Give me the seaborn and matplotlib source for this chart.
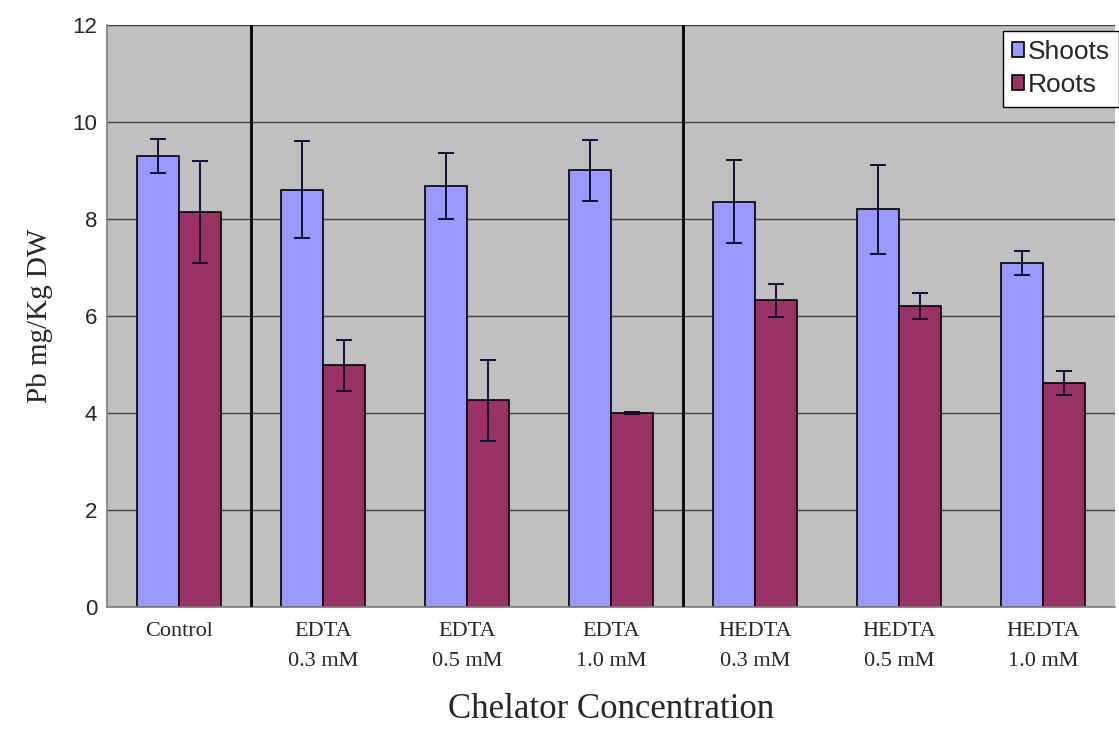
import matplotlib
matplotlib.use("Agg")
import matplotlib.pyplot as plt
import seaborn as sns
import pandas as pd
import numpy as np

categories = ["Control", "EDTA\n0.3 mM", "EDTA\n0.5 mM", "EDTA\n1.0 mM",
              "HEDTA\n0.3 mM", "HEDTA\n0.5 mM", "HEDTA\n1.0 mM"]
shoots = [9.30, 8.60, 8.68, 9.00, 8.36, 8.20, 7.10]
roots = [8.15, 4.98, 4.26, 4.00, 6.32, 6.20, 4.62]
shoots_err = [0.35, 1.00, 0.68, 0.62, 0.85, 0.92, 0.25]
roots_err = [1.05, 0.53, 0.84, 0.02, 0.34, 0.27, 0.24]
series = ["Shoots", "Roots"]
colors = {"Shoots": "#9999FF", "Roots": "#993366"}

df = pd.DataFrame({
    "cat": categories * 2,
    "series": ["Shoots"] * len(categories) + ["Roots"] * len(categories),
    "value": shoots + roots,
})
errs = {"Shoots": shoots_err, "Roots": roots_err}

sns.set_theme(style="white")
plt.rcParams["font.family"] = ["Liberation Sans", "DejaVu Sans"]
serif = ["Liberation Serif", "DejaVu Serif"]

fig = plt.figure(figsize=(11.19, 7.5), dpi=100)
ax = fig.add_axes([0.0956, 0.1907, 0.9008, 0.776])
ax.set_facecolor("#C0C0C0")

sns.barplot(data=df, x="cat", y="value", hue="series", hue_order=series,
            palette=colors, order=categories, width=0.58, ax=ax,
            edgecolor="black", linewidth=1.2, saturation=1, errorbar=None)

for cont, s in zip(ax.containers, series):
    xs = [p.get_x() + p.get_width() / 2 for p in cont.patches]
    hs = [p.get_height() for p in cont.patches]
    ax.errorbar(xs, hs, yerr=errs[s], fmt="none", ecolor="#101030",
                elinewidth=1.4, capsize=6, capthick=1.4, zorder=5)

ax.set_ylim(0, 12)
ax.set_xlim(-0.5, len(categories) - 0.5)
ax.set_yticks(np.arange(0, 13, 2))
ax.yaxis.grid(True, color="#404040", linewidth=1.0)
ax.set_axisbelow(True)
for xv in [0.5, 3.5]:
    ax.axvline(xv, color="black", linewidth=2.0, zorder=4)

for sp in ["top", "right"]:
    ax.spines[sp].set_visible(False)
ax.spines["left"].set_color("#808080")
ax.spines["bottom"].set_color("#808080")

ax.tick_params(axis="y", labelsize=16, length=0, pad=7)
ax.tick_params(axis="x", length=0, pad=11)
ax.set_xticks(range(len(categories)))
ax.set_xticklabels(categories, fontsize=16, family=serif, linespacing=1.75)
ax.set_xlabel("Chelator Concentration", fontsize=25, family=serif, labelpad=16)
ax.set_ylabel("Pb mg/Kg DW", fontsize=21, family=serif, labelpad=14)

leg = ax.legend(loc="upper right", bbox_to_anchor=(1.004, 0.99), fontsize=19,
                frameon=True, fancybox=False, edgecolor="black",
                handlelength=0.45, handleheight=0.5, handletextpad=0.15,
                borderpad=0.35, labelspacing=0.35, borderaxespad=0)
leg.get_frame().set_facecolor("white")
leg.get_frame().set_alpha(1)
leg.set_zorder(10)

fig.savefig("out.png", dpi=100)
